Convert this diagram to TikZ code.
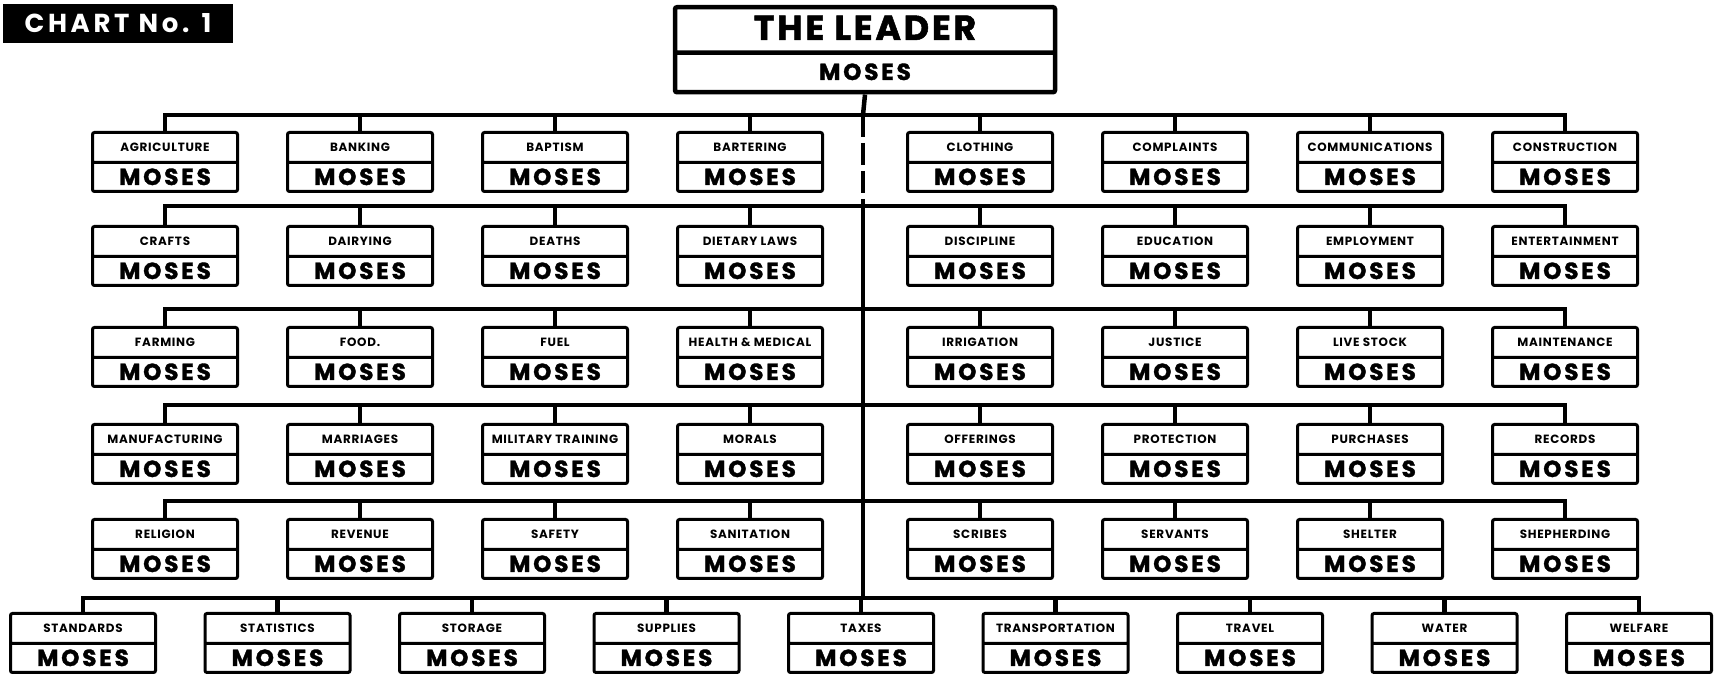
\documentclass[tikz,border=0pt]{standalone}
\usepackage{fontspec}
\setmainfont{Poppins}
\usetikzlibrary{shapes.multipart}
\newcommand\labelfont{\fontsize{3.4pt}{4pt}\selectfont\bfseries\addfontfeature{LetterSpace=6}}
\newcommand\mosesfont{\fontsize{6.6pt}{7pt}\selectfont\bfseries\addfontfeature{LetterSpace=12,FakeBold=1.5}}
\newcommand\office[1]{{\labelfont\rule[-.95mm]{0pt}{2.7mm}#1}\nodepart{two}{\mosesfont\rule[-.5mm]{0pt}{2.6mm}MOSES}}
\tikzset{
  dept/.style={rectangle split,rectangle split parts=2,draw,line width=.3mm,rounded corners=.2mm,minimum width=14.5mm,inner xsep=.4mm,inner ysep=0pt,anchor=north},
  leaderbox/.style={dept,line width=.45mm,minimum width=38mm},
  plate/.style={fill=black,text=white,minimum width=23mm,minimum height=3.9mm,inner sep=0pt,font=\fontsize{7.4pt}{8pt}\selectfont\bfseries\addfontfeature{LetterSpace=14}},
  wire/.style={line width=.35mm},
  stub/.style={line width=.45mm},
  declare function={colx(\i)=\i<5 ? 165+195*(\i-1) : 980+195*(\i-5);}
}
\begin{document}
\begin{tikzpicture}[x=.1mm,y=-.1mm]
  \useasboundingbox (0,0) rectangle (1714,676);
  \node[plate] (chart) at (118,23.5) {CHART No. 1};
  \node[leaderbox] (leader) at (865,5) {{\fontsize{9.9pt}{10pt}\selectfont\bfseries\addfontfeature{LetterSpace=8,FakeBold=1.5}\rule[-1.05mm]{0pt}{4.1mm}THE LEADER}\nodepart{two}{\mosesfont\rule[-1mm]{0pt}{3.5mm}MOSES}};
  % departments, row by row
  \foreach \name [count=\i] in {AGRICULTURE,BANKING,BAPTISM,BARTERING,CLOTHING,COMPLAINTS,COMMUNICATIONS,CONSTRUCTION}
    \node[dept] (a\i) at ({colx(\i)},131) {\office{\name}};
  \foreach \name [count=\i] in {CRAFTS,DAIRYING,DEATHS,DIETARY LAWS,DISCIPLINE,EDUCATION,EMPLOYMENT,ENTERTAINMENT}
    \node[dept] (b\i) at ({colx(\i)},225) {\office{\name}};
  \foreach \name [count=\i] in {FARMING,FOOD.,FUEL,HEALTH \& MEDICAL,IRRIGATION,JUSTICE,LIVE STOCK,MAINTENANCE}
    \node[dept] (c\i) at ({colx(\i)},326) {\office{\name}};
  \foreach \name [count=\i] in {MANUFACTURING,MARRIAGES,MILITARY TRAINING,MORALS,OFFERINGS,PROTECTION,PURCHASES,RECORDS}
    \node[dept] (d\i) at ({colx(\i)},423) {\office{\name}};
  \foreach \name [count=\i] in {RELIGION,REVENUE,SAFETY,SANITATION,SCRIBES,SERVANTS,SHELTER,SHEPHERDING}
    \node[dept] (e\i) at ({colx(\i)},518) {\office{\name}};
  \foreach \name [count=\i] in {STANDARDS,STATISTICS,STORAGE,SUPPLIES,TAXES,TRANSPORTATION,TRAVEL,WATER,WELFARE}
    \node[dept] (f\i) at ({83+194.5*(\i-1)},612) {\office{\name}};
  % buses
  \foreach \r/\y/\n in {a/115/8,b/206/8,c/309/8,d/405/8,e/501/8,f/598/9}{
    \coordinate (bus\r) at (863,\y);
    \draw[wire] (\r1.north) |- (bus\r) -| (\r\n.north);
    \foreach \i in {1,...,\n} \draw[stub] (\r\i.north) -- (\r\i.north |- bus\r);
  }
  \draw[stub] (leader.south) -- (busa);
  \draw[stub,dash pattern=on 2.2mm off .6mm] (busa) -- (busb);
  \draw[stub] (busb) -- (busf);
\end{tikzpicture}
\end{document}
